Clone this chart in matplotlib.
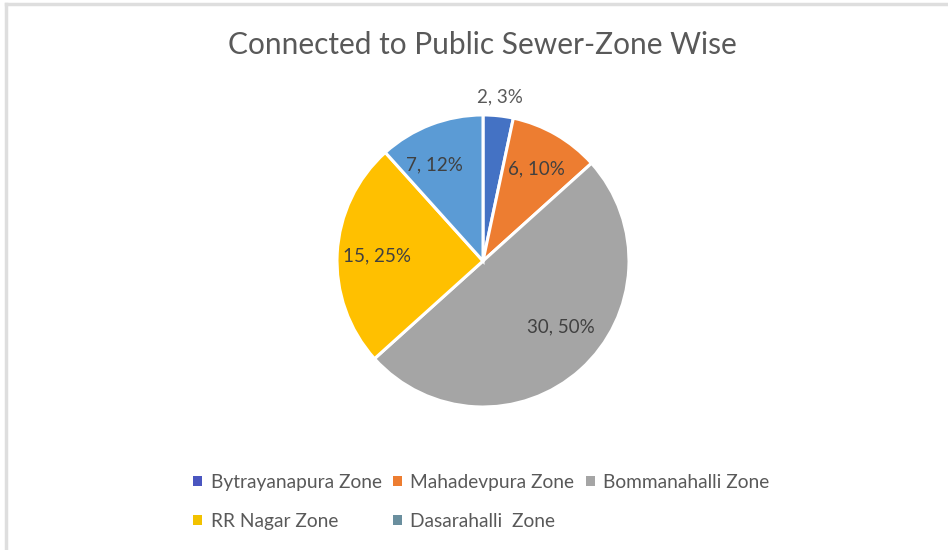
import numpy as np
import matplotlib.pyplot as plt
from matplotlib.patches import Patch
from matplotlib.lines import Line2D

plt.rcParams['font.family'] = ['Lato', 'DejaVu Sans']

zones = ['Bytrayanapura Zone', 'Mahadevpura Zone', 'Bommanahalli Zone',
         'RR Nagar Zone', 'Dasarahalli  Zone']
counts = [2, 6, 30, 15, 7]
pcts = [3, 10, 50, 25, 12]
colors = ['#4472C4', '#ED7D31', '#A5A5A5', '#FFC000', '#5B9BD5']
legend_colors = ['#4A56C0', '#ED7D31', '#A5A5A5', '#F2C200', '#6A8F9E']

fig = plt.figure(figsize=(9.48, 5.5), dpi=100)
fig.patch.set_facecolor('white')

# faint frame on top/left like the screenshot
fig.add_artist(Line2D([0.006, 0.006], [0, 0.992], color='#dedede', lw=2.5))
fig.add_artist(Line2D([0.006, 1], [0.992, 0.992], color='#dedede', lw=2.5))

fig.text(0.509, 0.918, 'Connected to Public Sewer-Zone Wise', ha='center', va='center',
         fontsize=21.5, color='#595959')

ax = fig.add_axes([0.3555, 0.26, 0.308, 0.531])
wedges, _ = ax.pie(counts, colors=colors, startangle=90, counterclock=False,
                   radius=1, wedgeprops=dict(edgecolor='white', linewidth=2.2))
ax.set_xlim(-1, 1)
ax.set_ylim(-1, 1)
ax.set_aspect('auto')
ax.axis('off')

label_r = [1.13, 0.73, 0.70, 0.73, 0.74]
label_shift = [0, 0, 8, 0, 6]
label_col = ['#595959', '#404040', '#404040', '#404040', '#404040']
for w, c, p, r, s, lc in zip(wedges, counts, pcts, label_r, label_shift, label_col):
    ang = np.deg2rad((w.theta1 + w.theta2) / 2 + s)
    ax.text(r * np.cos(ang), r * np.sin(ang), f'{c}, {p}%', ha='center', va='center',
            fontsize=13.5, color=lc, clip_on=False)

# row-major order in a 3-column legend
order = [0, 3, 1, 4, 2]
h = [Patch(facecolor=legend_colors[i], edgecolor='none') for i in order]
fig.legend(h, [zones[i] for i in order], loc='upper left', bbox_to_anchor=(0.196, 0.152),
           ncol=3, frameon=False, fontsize=13.8, labelcolor='#595959',
           handlelength=0.45, handleheight=0.45, handletextpad=0.45,
           columnspacing=0.6, labelspacing=1.15, borderaxespad=0)

fig.savefig('out.png', dpi=100)
